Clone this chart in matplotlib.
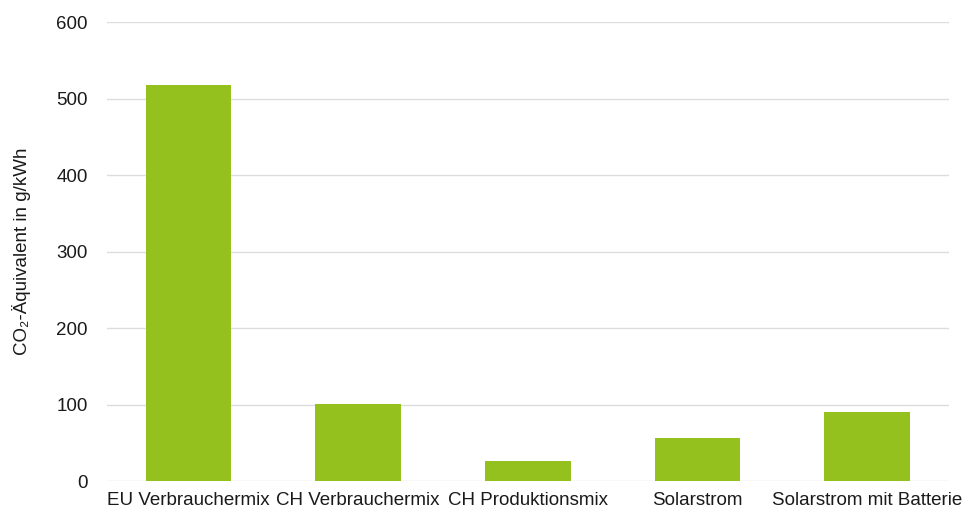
import matplotlib.pyplot as plt

# data
categories = ["EU Verbrauchermix", "CH Verbrauchermix", "CH Produktionsmix",
              "Solarstrom", "Solarstrom mit Batterie"]
co2_values = [518, 101, 26, 56, 90]
y_ticks = [0, 100, 200, 300, 400, 500, 600]

plt.rcParams["font.family"] = ["Liberation Sans", "DejaVu Sans"]

fig = plt.figure(figsize=(9.73, 5.15), dpi=100)
ax = fig.add_axes([0.11, 0.066, 0.865, 0.891])

ax.bar(range(len(categories)), co2_values, width=0.505, color="#95c11f", zorder=2)

ax.set_ylim(0, 600)
ax.set_xlim(-0.48, 4.48)
ax.set_yticks(y_ticks)
ax.set_xticks(range(len(categories)))
ax.set_xticklabels(categories)
ax.grid(axis="y", color="#dddddd", linewidth=1, zorder=0)
ax.set_axisbelow(True)

for s in ax.spines.values():
    s.set_visible(False)
ax.tick_params(axis="both", length=0, labelsize=13.5, colors="#1a1a1a")
ax.tick_params(axis="y", pad=14)
ax.tick_params(axis="x", pad=8)

ax.set_ylabel("CO\u2082-Äquivalent in g/kWh", fontsize=13.5, color="#1a1a1a", labelpad=18)

fig.savefig("out.png", dpi=100)
